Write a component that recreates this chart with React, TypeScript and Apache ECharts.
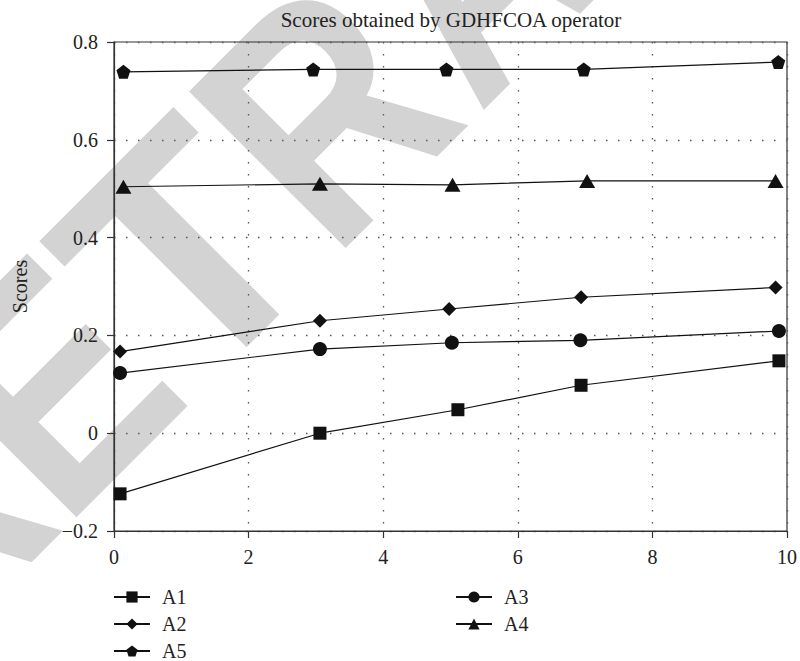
import React, { useEffect, useRef } from 'react';
import * as echarts from 'echarts';

const titleText = 'Scores obtained by GDHFCOA operator';
const yAxisName = 'Scores';
const watermarkLetters = ['R', 'E', 'T', 'R', 'A'];

const xMin = 0;
const xMax = 10;
const xInterval = 2;
const yMin = -0.2;
const yMax = 0.8;
const yInterval = 0.2;

const a1X = [0.09, 3.06, 5.11, 6.94, 9.88];
const a1Y = [-0.124, 0.0, 0.048, 0.098, 0.148];
const a2X = [0.09, 3.06, 4.98, 6.94, 9.83];
const a2Y = [0.167, 0.23, 0.254, 0.278, 0.298];
const a3X = [0.09, 3.06, 5.02, 6.93, 9.88];
const a3Y = [0.123, 0.172, 0.185, 0.19, 0.209];
const a4X = [0.14, 3.06, 5.03, 7.03, 9.83];
const a4Y = [0.504, 0.51, 0.508, 0.516, 0.516];
const a5X = [0.14, 2.96, 4.94, 6.98, 9.87];
const a5Y = [0.739, 0.744, 0.744, 0.744, 0.759];

const legendCol1 = ['A1', 'A2', 'A5'];
const legendCol2 = ['A3', 'A4'];

const PENTAGON = 'path://M0,-1 L0.951,-0.309 L0.588,0.809 L-0.588,0.809 L-0.951,-0.309 Z';

const SERIF = '"Liberation Serif", "DejaVu Serif", serif';
const INK = '#111';

function pairs(xs: number[], ys: number[]) {
  return xs.map((x, i) => [x, ys[i]]);
}

function fmtY(v: number) {
  if (Math.abs(v) < 1e-9) return '0';
  return (v < 0 ? '\u2212' : '') + Math.abs(v).toFixed(1);
}

// watermark layout (diagonal, 45 degrees): position along the text direction and horizontal squeeze
const WM_ALONG = [-424, -237, -48, 149.5, 351];
const WM_SQUEEZE = [0.85, 0.87, 1.0, 0.85, 0.8];
const WM_MID = 436; // x + y of the letters' central line

export default function App() {
  const ref = useRef<HTMLDivElement>(null);

  useEffect(() => {
    if (!ref.current) return;
    const chart = echarts.init(ref.current, undefined, { renderer: 'svg' });

    const mk = (name: string, xs: number[], ys: number[], symbol: string, size: any) => ({
      name,
      type: 'line',
      data: pairs(xs, ys),
      symbol,
      symbolSize: size,
      showSymbol: true,
      lineStyle: { color: INK, width: 1.2 },
      itemStyle: { color: INK, borderWidth: 0 },
      emphasis: { disabled: true },
      z: 5,
    });

    const legendItem = (name: string, left: number, top: number) => ({
      orient: 'vertical',
      data: [name],
      left,
      top,
      padding: 0,
      itemWidth: 36,
      itemHeight: 14,
      itemGap: 0,
      selectedMode: false,
      textStyle: { fontFamily: SERIF, fontSize: 20, color: '#222', padding: [0, 0, 0, 7], lineHeight: 20 },
    });

    const rowTops = [587, 614, 641];

    const watermark = watermarkLetters.map((ch, i) => {
      const u = WM_ALONG[i] * Math.SQRT2;
      return {
        type: 'text',
        x: (WM_MID + u) / 2,
        y: (WM_MID - u) / 2,
        rotation: Math.PI / 4,
        scaleX: WM_SQUEEZE[i],
        z: -100,
        silent: true,
        style: {
          text: ch,
          font: 'bold 322px "Liberation Sans", Arial, sans-serif',
          fill: '#d3d3d3',
          align: 'center',
          verticalAlign: 'middle',
        },
      };
    });

    chart.setOption({
      animation: false,
      backgroundColor: '#fff',
      graphic: [
        ...watermark,
        {
          type: 'text',
          x: 451,
          y: 20,
          z: 10,
          style: {
            text: titleText,
            font: `21px ${SERIF}`,
            fill: '#222',
            align: 'center',
            verticalAlign: 'middle',
          },
        },
      ],
      grid: {
        left: 114,
        right: 10,
        top: 42,
        bottom: 130,
        show: true,
        borderColor: '#333',
        borderWidth: 1.2,
        backgroundColor: 'transparent',
      },
      xAxis: {
        type: 'value',
        min: xMin,
        max: xMax,
        interval: xInterval,
        axisLine: { show: true, onZero: false, lineStyle: { color: '#333', width: 1.2 } },
        axisTick: { show: true, inside: false, length: 7, lineStyle: { color: '#333', width: 1.2 } },
        axisLabel: { fontFamily: SERIF, fontSize: 20, color: '#222', margin: 16 },
        splitLine: { show: true, lineStyle: { color: '#555', type: [1.5, 10.5], width: 1.3 } },
      },
      yAxis: {
        type: 'value',
        min: yMin,
        max: yMax,
        interval: yInterval,
        name: yAxisName,
        nameLocation: 'middle',
        nameGap: 84,
        nameTextStyle: { fontFamily: SERIF, fontSize: 20, color: '#222' },
        axisLine: { show: true, onZero: false, lineStyle: { color: '#333', width: 1.2 } },
        axisTick: { show: true, inside: false, length: 7, lineStyle: { color: '#333', width: 1.2 } },
        axisLabel: { fontFamily: SERIF, fontSize: 20, color: '#222', margin: 16, formatter: fmtY },
        splitLine: { show: true, lineStyle: { color: '#555', type: [1.5, 10.5], width: 1.3 } },
      },
      legend: [
        ...legendCol1.map((n, i) => legendItem(n, 113, rowTops[i])),
        ...legendCol2.map((n, i) => legendItem(n, 455, rowTops[i])),
      ],
      series: [
        mk('A1', a1X, a1Y, 'rect', 13),
        mk('A2', a2X, a2Y, 'diamond', 14),
        mk('A3', a3X, a3Y, 'circle', 14),
        mk('A4', a4X, a4Y, 'triangle', [16, 14]),
        mk('A5', a5X, a5Y, PENTAGON, 14),
      ],
    });

    return () => chart.dispose();
  }, []);

  return (
    <div
      ref={ref}
      style={{ position: 'fixed', left: 0, top: 0, width: 800, height: 661, background: '#fff' }}
    />
  );
}
